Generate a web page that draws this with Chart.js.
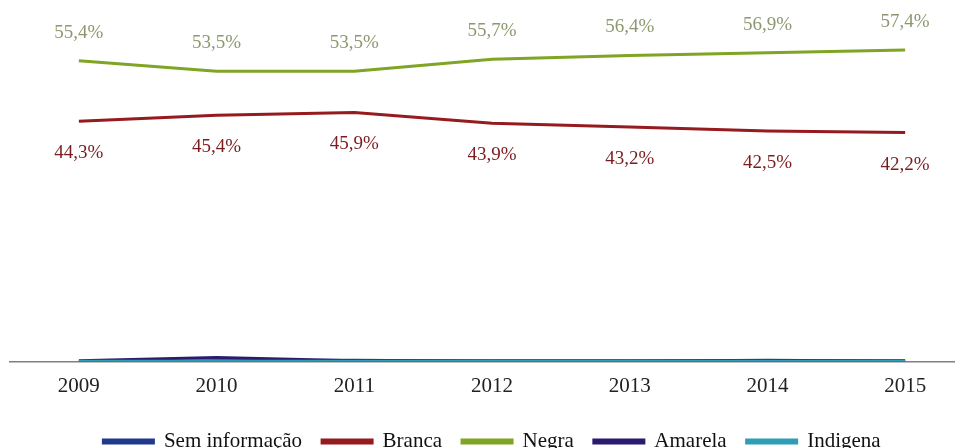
<!DOCTYPE html>
<html>
<head>
<meta charset="utf-8">
<script src="https://cdn.jsdelivr.net/npm/chart.js@4.4.1/dist/chart.umd.min.js"></script>
<style>
  html, body { margin: 0; padding: 0; background: #fff; overflow: hidden; }
  #wrap { width: 975px; height: 462px; position: relative; }
</style>
</head>
<body>
<div id="wrap"><canvas id="raceChart"></canvas></div>
<script>
// anos e percentuais por raça/cor
const years = ['2009', '2010', '2011', '2012', '2013', '2014', '2015'];
const semInformacao = [0.0, 0.2, 0.3, 0.1, 0.1, 0.3, 0.1];
const branca = [44.3, 45.4, 45.9, 43.9, 43.2, 42.5, 42.2];
const negra = [55.4, 53.5, 53.5, 55.7, 56.4, 56.9, 57.4];
const amarela = [0.2, 0.8, 0.2, 0.2, 0.2, 0.2, 0.2];
const indigena = [0.1, 0.1, 0.1, 0.1, 0.1, 0.1, 0.1];

const serif = '"Liberation Serif", "DejaVu Serif", serif';

function pct(v) {
    return v.toFixed(1).replace('.', ',') + '%';
}

// draw the value labels next to the points (above for Negra, below for Branca)
const valueLabels = {
    id: 'valueLabels',
    afterDatasetsDraw(chart) {
        const ctx = chart.ctx;
        chart.data.datasets.forEach((ds, i) => {
            if (!ds.labelOffset) return;
            const meta = chart.getDatasetMeta(i);
            ctx.save();
            ctx.font = '19px ' + serif;
            ctx.fillStyle = ds.labelColor;
            ctx.textAlign = 'center';
            ctx.textBaseline = 'middle';
            meta.data.forEach((pt, j) => {
                ctx.fillText(pct(ds.data[j]), pt.x, pt.y + ds.labelOffset);
            });
            ctx.restore();
        });
    }
};

function line(label, data, color, order) {
    return {
        label: label,
        data: data,
        borderColor: color,
        backgroundColor: color,
        borderWidth: 3,
        pointRadius: 0,
        tension: 0,
        order: order
    };
}

const datasets = [
    line('Sem informação', semInformacao, '#1f3a8c', 3),
    line('Branca', branca, '#951b1f', 2),
    line('Negra', negra, '#80a424', 2),
    line('Amarela', amarela, '#2b1b70', 1),
    line('Indigena', indigena, '#2f9db6', 0)
];
datasets[1].labelOffset = 32;
datasets[1].labelColor = '#7a1c1e';
datasets[2].labelOffset = -28;
datasets[2].labelColor = '#8c9870';

new Chart(document.getElementById('raceChart'), {
    type: 'line',
    data: { labels: years, datasets: datasets },
    plugins: [valueLabels],
    options: {
        responsive: true,
        maintainAspectRatio: false,
        animation: false,
        layout: { padding: { left: 10, right: 1, top: 0, bottom: 0 } },
        scales: {
            x: {
                offset: true,
                grid: { display: false, drawTicks: false },
                border: { display: true, color: '#808080', width: 1.5 },
                ticks: { color: '#222', font: { family: serif, size: 21 }, padding: 12 }
            },
            y: {
                display: false,
                min: 0,
                max: 66.6
            }
        },
        plugins: {
            tooltip: { enabled: false },
            legend: {
                position: 'bottom',
                labels: {
                    color: '#111',
                    font: { family: serif, size: 21 },
                    boxWidth: 50,
                    boxHeight: 3,
                    padding: 20,
                    sort: (a, b) => a.datasetIndex - b.datasetIndex
                }
            }
        }
    }
});
</script>
</body>
</html>
